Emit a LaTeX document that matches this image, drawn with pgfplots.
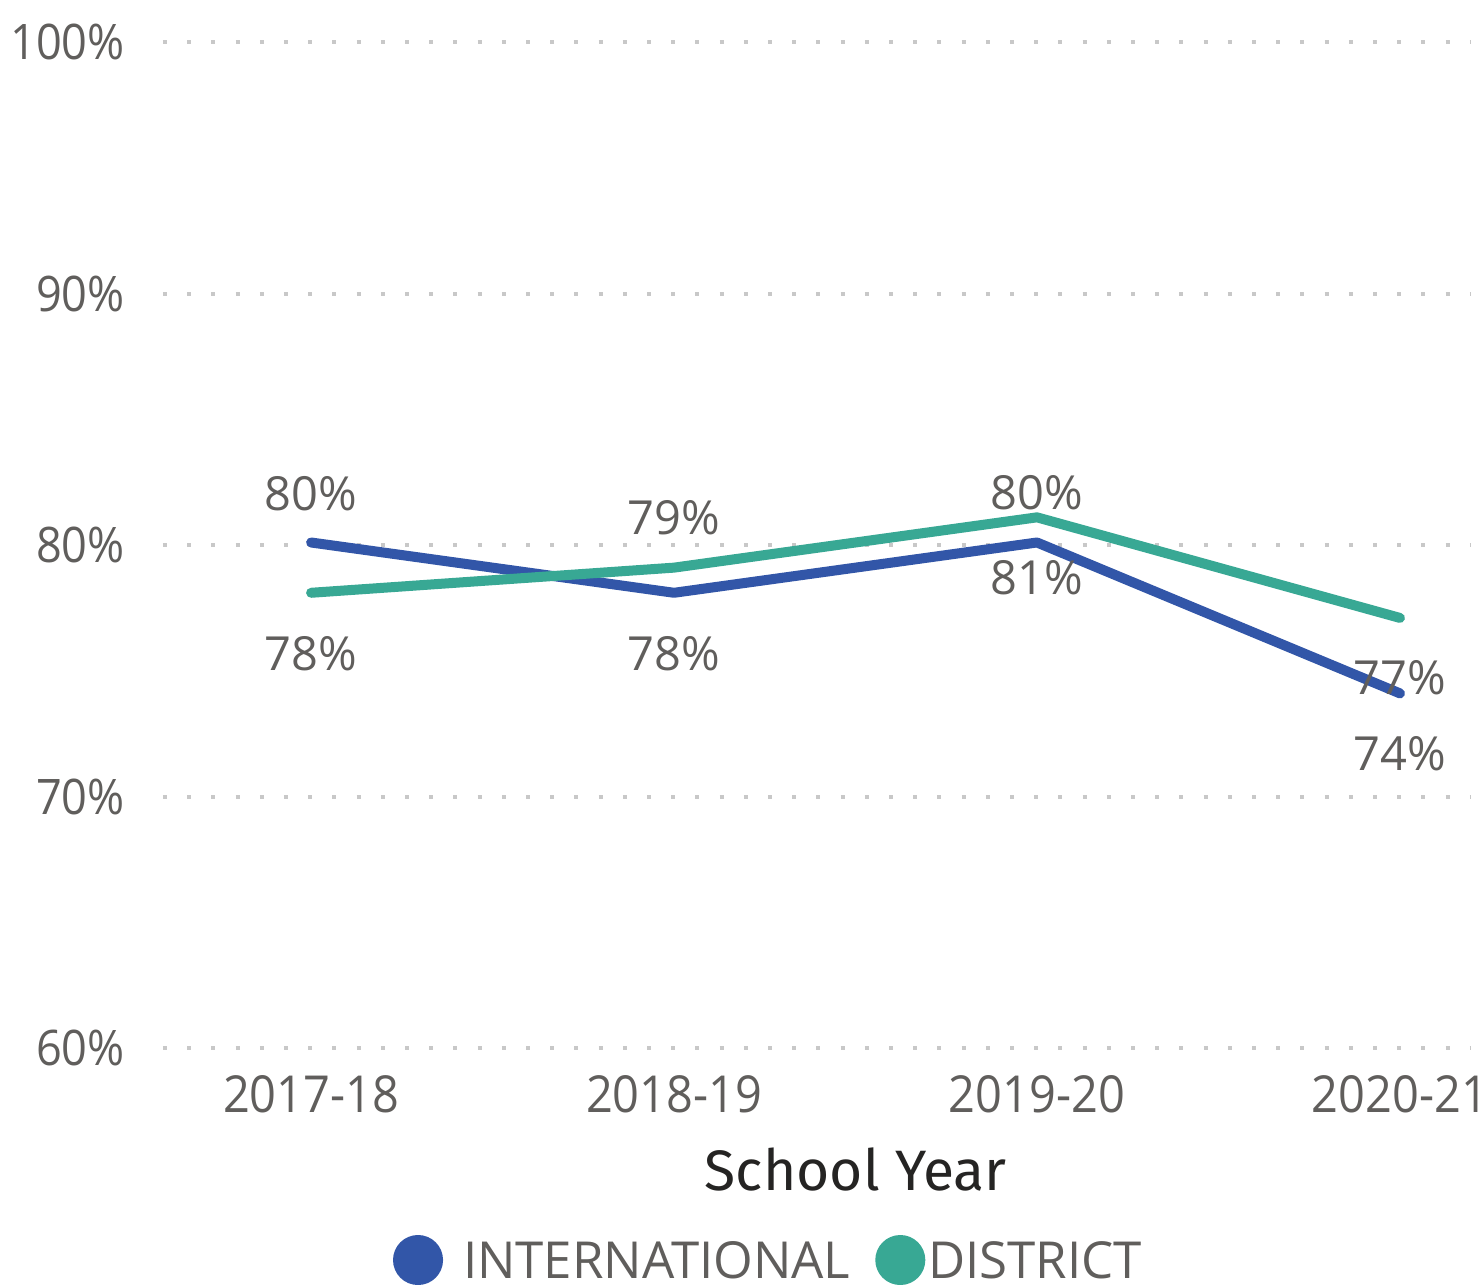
\documentclass[border=0pt]{standalone}
\usepackage{pgfplots}
\pgfplotsset{compat=1.18}
\usepackage{fontspec}
\setmainfont{Open Sans}[FakeStretch=0.92]
\newfontfamily\wideopen{Open Sans}
\newfontfamily\titlefont{Fira Sans}
\definecolor{intl}{HTML}{3256A8}
\definecolor{dist}{HTML}{38A894}
\definecolor{txt}{HTML}{605E5C}
\definecolor{ttl}{HTML}{252423}
\definecolor{grd}{HTML}{C8C8C8}
\newcommand\tickfont{\fontsize{49bp}{58bp}\selectfont}
\newcommand\xtickfont{\fontsize{51bp}{60bp}\selectfont}
\newcommand\lblfont{\wideopen\fontsize{47bp}{56bp}\selectfont}
\newcommand\legfont{\wideopen\fontsize{51bp}{60bp}\selectfont}
\begin{document}
\begin{tikzpicture}
\begin{axis}[
  scale only axis, width=1307bp, height=1006bp,
  xmin=-0.408, xmax=3.193, ymin=60, ymax=100,
  axis line style={draw=none}, major tick length=0pt,
  xtick={0,1,2,3}, xticklabels={2017-18,2018-19,2019-20,2020-21},
  ytick={60,70,80,90,100}, yticklabels={60\%,70\%,80\%,90\%,100\%},
  ymajorgrids,
  major grid style={draw=grd, line width=4bp, dash pattern=on 4bp off 20.2bp},
  xticklabel style={font=\xtickfont, text=txt, anchor=north, inner sep=0pt, yshift=-27bp},
  yticklabel style={font=\tickfont, text=txt, anchor=east, inner sep=0pt, xshift=-38bp},
  xlabel={School Year},
  xlabel style={font=\titlefont\fontsize{57bp}{66bp}\selectfont, text=ttl, at={(axis description cs:0.53,0)}, anchor=center, inner sep=0pt, yshift=-121bp},
  legend columns=-1,
  legend style={at={(axis description cs:0.176,-0.2187)}, anchor=west, draw=none, fill=none,
    inner sep=0pt, outer sep=0pt, font=\legfont, text=txt,
    nodes={inner sep=0pt}, cells={anchor=base west},
    /tikz/every even column/.append style={column sep=25bp}},
  clip=false,
]
\addplot[intl, line width=10bp, line cap=round, line join=round,
  legend image code/.code={\fill[intl] (20bp,18bp) circle (20bp); \path[draw=none] (0,-40bp) (65bp,60bp);}]
  coordinates {(0,80.1) (1,78.1) (2,80.1) (3,74.1)};
\addlegendentry{INTERNATIONAL}
\addplot[dist, line width=10bp, line cap=round, line join=round,
  legend image code/.code={\fill[dist] (20bp,18bp) circle (20bp); \path[draw=none] (0,-40bp) (48bp,60bp);}]
  coordinates {(0,78.1) (1,79.1) (2,81.1) (3,77.1)};
\addlegendentry{DISTRICT}
\begin{scope}[every node/.style={font=\lblfont, text=txt, inner sep=0pt, anchor=center}]
\node at (axis cs:0,82.03) {80\%};
\node at (axis cs:0,75.67) {78\%};
\node at (axis cs:1,81.07) {79\%};
\node at (axis cs:1,75.67) {78\%};
\node at (axis cs:2,82.07) {80\%};
\node at (axis cs:2,78.69) {81\%};
\node at (axis cs:3,74.71) {77\%};
\node at (axis cs:3,71.69) {74\%};
\end{scope}
\end{axis}
\pgfresetboundingbox
\path[use as bounding box] (current axis.south west) ++(-163bp,-240bp) rectangle ++(1481bp,1288bp);
\end{tikzpicture}
\end{document}
